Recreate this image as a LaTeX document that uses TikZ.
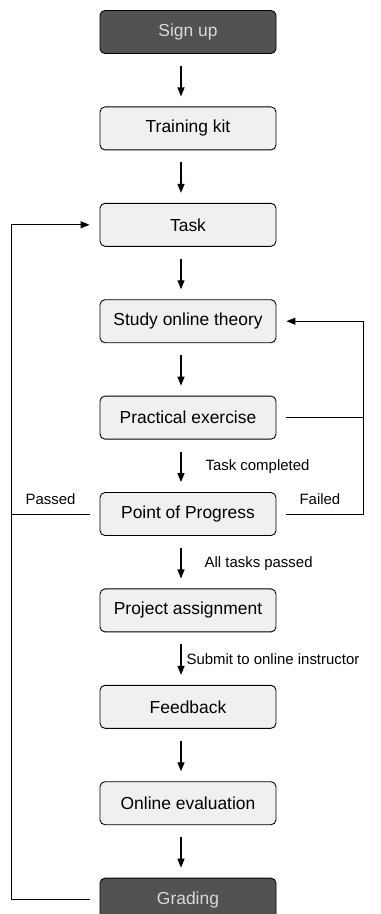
\documentclass[tikz,border=0pt]{standalone}
\usepackage{fontspec}
\setmainfont{Liberation Sans}
\usetikzlibrary{positioning,arrows.meta}
\begin{document}
    \begin{tikzpicture}[x=1bp, y=1bp, node distance=52.5bp,
            box/.style = {draw, line width=0.9bp, rounded corners=5bp, fill=black!6,
                minimum width=176bp, minimum height=43bp, inner sep=0pt,
                font=\fontsize{17.5}{20}\selectfont},
            dark/.style = {box, fill=black!68, text=black!15},
            lbl/.style = {inner sep=0pt, font=\fontsize{15}{18}\selectfont},
            arr/.style = {-{Triangle[length=9bp,width=7bp]}, line width=1.2bp},
            loop/.style = {line width=1bp}]
        \useasboundingbox (0,0) rectangle (380,-914);
        \node[dark] (signup) at (188,-32) {Sign up};
        \node[box, below=of signup] (kit) {Training kit};
        \node[box, below=of kit] (task) {Task};
        \node[box, below=of task] (study) {Study online theory};
        \node[box, below=of study] (practice) {Practical exercise};
        \node[box, below=of practice] (progress) {Point of Progress};
        \node[box, below=of progress] (project) {Project assignment};
        \node[box, below=of project] (feedback) {Feedback};
        \node[box, below=of feedback] (evaluation) {Online evaluation};
        \node[dark, below=of evaluation] (grading) {Grading};
        % main flow
        \foreach \a/\b in {signup/kit, kit/task, task/study, study/practice,
                feedback/evaluation, evaluation/grading}
            \draw[arr] ([shift={(-7,-12)}]\a.south) -- ([shift={(-7,10)}]\b.north);
        \draw[arr] ([shift={(-7,-12)}]practice.south) -- ([shift={(-7,10)}]progress.north)
            node[lbl, midway, right=24bp] {Task completed};
        \draw[arr] ([shift={(-7,-12)}]progress.south) -- ([shift={(-7,10)}]project.north)
            node[lbl, midway, right=23bp] {All tasks passed};
        \draw[arr] ([shift={(-7,-12)}]project.south) -- ([shift={(-7,10)}]feedback.north)
            node[lbl, midway, right=5bp] {Submit to online instructor};
        % loops
        \draw[loop, arr, line width=1bp] ([xshift=-10bp]grading.west) -- ++(-78,0)
            |- ([xshift=-10bp]task.west);
        \draw[loop] ([xshift=-10bp]progress.west) -- ++(-78,0)
            node[lbl, midway, above=9bp] {Passed};
        \draw[loop, arr, line width=1bp] ([xshift=10bp]progress.east) -- ++(77,0)
            node[lbl, midway, above=9bp, xshift=-5bp] {Failed}
            |- ([xshift=10bp]study.east);
        \draw[loop] ([xshift=10bp]practice.east) -- ++(77,0);
    \end{tikzpicture}
\end{document}
